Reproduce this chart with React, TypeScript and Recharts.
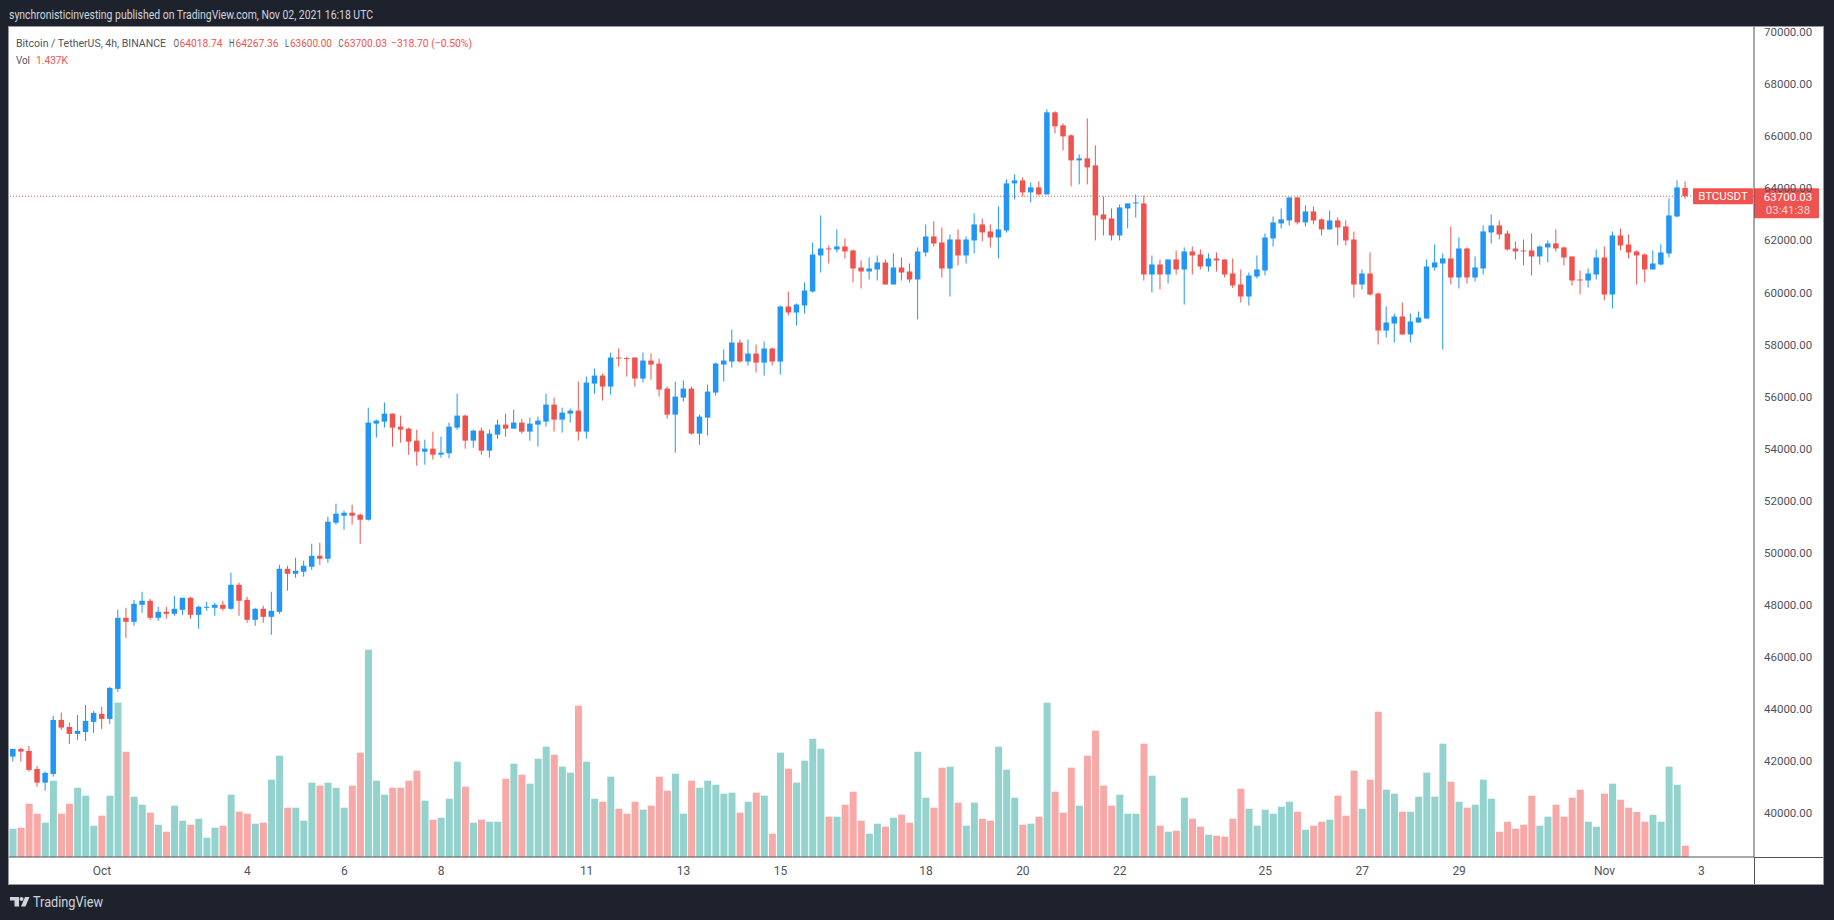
import React from 'react';
import { ComposedChart, Bar, XAxis, YAxis, ReferenceLine } from 'recharts';

// BTCUSDT 4h candles, Sep 29 04:00 UTC -> Nov 2 16:00 UTC
const OPEN = [
  42167, 42462, 42385, 41692, 41167, 41500, 43577, 43308, 43039, 43115,
  43500, 43808, 43615, 44769, 47500, 47346, 48000, 48154, 47500, 47731,
  47654, 47808, 48269, 47615, 47885, 47885, 48000, 47846, 48769, 48192,
  47423, 47846, 47538, 47731, 49384, 49192, 49269, 49461, 49884, 49769,
  51154, 51423, 51538, 51461, 51269, 54961, 55038, 55346, 54846, 54769,
  54307, 53884, 54000, 53769, 53821, 54808, 55270, 54308, 54693, 53924,
  54539, 54924, 54770, 55001, 54654, 54924, 55039, 55693, 55116, 55347,
  55462, 54654, 56500, 56808, 56385, 57501, 57480, 57501, 56693, 57385,
  57270, 56308, 55308, 55962, 56308, 54578, 55193, 56154, 57231, 57347,
  58077, 57347, 57654, 57308, 57847, 57347, 59461, 59231, 59500, 60038,
  61423, 61692, 61654, 61769, 61615, 60961, 60807, 60884, 61154, 60308,
  60961, 60807, 60500, 61538, 62154, 61923, 60923, 62038, 61423, 62000,
  62615, 62346, 62115, 62384, 64192, 64307, 63846, 64038, 63769, 66923,
  66423, 66038, 65077, 65154, 64884, 63000, 62846, 62192, 63231, 63423,
  63423, 60692, 61077, 60692, 61269, 60884, 61577, 61461, 61000, 61307,
  61269, 60731, 60308, 59846, 60615, 60846, 62077, 62654, 62769, 63654,
  62692, 63115, 62808, 62423, 62769, 62538, 62038, 60308, 60731, 59962,
  58539, 58808, 59077, 58385, 58846, 59000, 60962, 61115, 61308, 60577,
  61692, 60577, 60923, 62308, 62577, 62269, 61692, 61615, 61615, 61385,
  61731, 61885, 61731, 61385, 60500, 60462, 60692, 61346, 59923, 62192,
  61846, 61577, 61461, 60885, 61077, 61500, 62923, 64018.74,
];

const HIGH = [
  42462, 42513, 42577, 41808, 41590, 43731, 43859, 43474, 43769, 44154,
  43923, 44077, 44846, 47808, 47885, 48192, 48500, 48231, 47923, 47923,
  48346, 48269, 48308, 47961, 48115, 48077, 48154, 49231, 48846, 48308,
  47885, 47961, 48500, 49538, 49500, 49808, 49692, 50346, 50384, 51384,
  51884, 51615, 51846, 51500, 55577, 55115, 55769, 55346, 55269, 54807,
  54730, 54346, 54653, 54461, 55001, 56116, 55308, 54731, 54808, 54731,
  55116, 55347, 55501, 55154, 55193, 55231, 56116, 55962, 55578, 55539,
  56577, 56770, 57077, 56885, 57693, 57847, 57539, 57501, 57693, 57654,
  57462, 56385, 56577, 56616, 56385, 55308, 56462, 57308, 57808, 58577,
  58193, 58193, 58000, 58116, 57885, 59500, 60038, 59577, 60385, 61923,
  62961, 61807, 62423, 62077, 61654, 61231, 61346, 61423, 61269, 61500,
  61346, 61115, 61731, 62615, 62731, 62500, 62231, 62423, 62154, 63038,
  62846, 62615, 63307, 64346, 64538, 64423, 64231, 64269, 67038, 66961,
  66500, 66077, 65307, 66692, 65654, 63692, 63231, 63384, 63423, 63769,
  63731, 61423, 61269, 61269, 61615, 61731, 61769, 61654, 61500, 61538,
  61269, 61308, 60885, 60769, 61423, 62269, 62923, 63231, 63654, 63654,
  63346, 63308, 62846, 63154, 62884, 62769, 62346, 60885, 61538, 60000,
  59462, 59192, 59615, 59192, 59269, 61269, 61846, 61500, 62538, 62115,
  61731, 61385, 62577, 63000, 62769, 62384, 61961, 62038, 62269, 61808,
  62000, 62423, 61769, 61385, 60846, 60923, 61654, 61769, 62346, 62461,
  62231, 61615, 61500, 61615, 61846, 63615, 64308, 64267.36,
];

const LOW = [
  41974, 41974, 41590, 41013, 40859, 41398, 43192, 42654, 42808, 42769,
  43077, 43231, 43423, 44654, 46731, 47192, 47692, 47423, 47385, 47461,
  47577, 47615, 47461, 47077, 47769, 47577, 47769, 47808, 47577, 47308,
  47192, 47308, 46846, 47654, 48538, 49038, 49077, 49346, 49538, 49615,
  51077, 50884, 51077, 50346, 51231, 54423, 54807, 54077, 54230, 53769,
  53346, 53384, 53577, 53654, 53629, 54731, 54001, 54039, 53770, 53655,
  54385, 54462, 54770, 54578, 54308, 54078, 54847, 54654, 54616, 55001,
  54308, 54385, 56116, 55847, 56077, 57154, 56770, 56385, 56539, 56654,
  56001, 55154, 53847, 55808, 54539, 54154, 54501, 56039, 56577, 57116,
  57308, 57193, 56924, 56808, 57193, 56846, 59115, 58731, 59192, 60000,
  60769, 61115, 61538, 61307, 60385, 60154, 60500, 60461, 60308, 60308,
  60461, 60385, 58961, 61384, 61769, 60577, 59846, 61038, 61115, 61500,
  61961, 61731, 61307, 62307, 63577, 63692, 63461, 63731, 63769, 66115,
  65461, 64077, 64154, 64154, 62000, 62192, 62000, 62000, 62461, 62884,
  60461, 60000, 60115, 60346, 60692, 59538, 60692, 60884, 60807, 60807,
  60577, 60167, 59615, 59500, 60538, 60654, 61769, 62461, 62577, 62615,
  62538, 62615, 62192, 62423, 61808, 61808, 59808, 60115, 59885, 58000,
  58269, 58077, 58385, 58077, 58846, 59000, 60846, 57808, 60308, 60154,
  60346, 60423, 60692, 61885, 62038, 61615, 61269, 61038, 60654, 61077,
  61154, 61577, 61038, 60269, 59923, 60192, 60500, 59692, 59385, 61615,
  61308, 60308, 60385, 60885, 61038, 61346, 62884, 63600,
];

const CLOSE = [
  42462, 42359, 41654, 41167, 41539, 43577, 43282, 43039, 43154, 43539,
  43846, 43615, 44808, 47500, 47346, 48038, 48154, 47500, 47731, 47654,
  47846, 48269, 47615, 47923, 47923, 48000, 47846, 48769, 48154, 47423,
  47846, 47538, 47769, 49384, 49192, 49308, 49500, 49884, 49769, 51192,
  51500, 51538, 51423, 51269, 55000, 55077, 55346, 54807, 54730, 54269,
  53884, 54000, 53769, 53846, 54847, 55270, 54308, 54693, 53924, 54578,
  54924, 54770, 55001, 54654, 54962, 55078, 55693, 55116, 55385, 55462,
  54654, 56539, 56808, 56385, 57501, 57462, 57450, 56693, 57385, 57231,
  56270, 55308, 56001, 56308, 54578, 55231, 56193, 57270, 57385, 58077,
  57347, 57654, 57308, 57847, 57347, 59461, 59231, 59538, 60077, 61461,
  61692, 61654, 61769, 61577, 60923, 60807, 60923, 61154, 60308, 60961,
  60769, 60500, 61577, 62154, 61884, 60923, 62038, 61423, 62038, 62615,
  62308, 62115, 62423, 64192, 64307, 63846, 64038, 63769, 66923, 66384,
  66000, 65077, 65154, 64807, 62961, 62807, 62192, 63269, 63423, 63461,
  60692, 61077, 60692, 61269, 60884, 61577, 61423, 61000, 61307, 61231,
  60692, 60269, 59846, 60654, 60885, 62115, 62692, 62808, 63654, 62692,
  63115, 62769, 62423, 62769, 62500, 62000, 60308, 60731, 59923, 58539,
  58846, 59077, 58385, 58885, 59039, 61000, 61154, 61308, 60577, 61692,
  60577, 60962, 62346, 62577, 62231, 61654, 61577, 61577, 61385, 61769,
  61885, 61692, 61346, 60462, 60462, 60731, 61346, 59923, 62192, 61808,
  61538, 61423, 60885, 61115, 61538, 62961, 64038, 63700.03,
];

// volume in K BTC
const VOLUME = [
  3.59, 3.72, 6.77, 5.5, 4.36, 9.69, 5.5, 6.77, 8.8, 7.79,
  3.98, 5.25, 7.79, 19.6, 13.37, 7.66, 6.64, 5.63, 4.1, 3.21,
  6.52, 4.61, 4.1, 4.86, 2.45, 3.72, 3.98, 7.91, 5.75, 5.5,
  4.23, 4.36, 9.82, 12.87, 6.26, 6.26, 4.61, 9.44, 9.06, 9.44,
  8.8, 6.26, 9.06, 13.25, 26.33, 9.69, 7.91, 8.8, 8.8, 9.69,
  10.96, 7.15, 4.74, 4.99, 7.4, 12.1, 8.93, 4.36, 4.74, 4.48,
  4.48, 9.94, 11.85, 10.45, 9.31, 12.48, 14.01, 12.99, 11.47, 10.71,
  19.22, 12.1, 7.4, 7.02, 10.2, 6.13, 5.5, 7.02, 6.01, 6.52,
  10.2, 8.42, 10.58, 5.5, 9.69, 8.8, 9.69, 9.18, 8.04, 8.17,
  5.63, 7.02, 8.17, 7.79, 2.96, 13.25, 11.21, 9.44, 12.23, 15.02,
  13.75, 5.12, 5.12, 6.64, 8.29, 4.61, 2.96, 4.23, 3.85, 4.99,
  5.37, 4.36, 13.37, 7.53, 6.26, 11.34, 11.47, 6.9, 3.98, 6.9,
  4.86, 4.61, 14.01, 11.09, 7.53, 4.1, 4.23, 5.12, 19.6, 8.29,
  5.63, 11.34, 6.52, 12.87, 16.04, 9.06, 6.52, 7.91, 5.5, 5.5,
  14.39, 10.33, 3.98, 3.21, 3.34, 7.53, 4.86, 3.85, 2.83, 2.71,
  2.58, 4.86, 8.67, 6.13, 3.98, 6.01, 5.5, 6.39, 7.02, 5.75,
  3.47, 3.98, 4.48, 4.74, 7.79, 5.25, 10.96, 6.13, 9.82, 18.45,
  8.55, 8.04, 5.75, 5.75, 7.66, 10.71, 7.66, 14.39, 9.56, 7.02,
  6.26, 6.64, 9.82, 7.4, 3.21, 4.48, 3.59, 4.1, 7.79, 3.98,
  5.12, 6.64, 5.12, 7.53, 8.55, 4.48, 3.85, 8.04, 9.31, 7.28,
  6.26, 5.72, 4.48, 5.37, 4.48, 11.47, 9.18, 1.437,
];

const TICK_DATES = [
  '2021-10-01', '2021-10-04', '2021-10-06', '2021-10-08', '2021-10-11',
  '2021-10-13', '2021-10-15', '2021-10-18', '2021-10-20', '2021-10-22',
  '2021-10-25', '2021-10-27', '2021-10-29', '2021-11-01', '2021-11-03',
];
const PRICE_TICKS = [40000, 42000, 44000, 46000, 48000, 50000, 52000, 54000,
  56000, 58000, 60000, 62000, 64000, 66000, 68000, 70000];
const MONTHS = ['Jan', 'Feb', 'Mar', 'Apr', 'May', 'Jun', 'Jul', 'Aug', 'Sep', 'Oct', 'Nov', 'Dec'];

const START = Date.UTC(2021, 8, 29, 4);
const STEP = 4 * 3600 * 1000;
const EMPTY_SLOTS = 8; // blank space right of the last candle
const LAST_PRICE = 63700.03;

const UP = '#2196f3';
const DOWN = '#ef5350';
const VOL_UP = '#94d3cd';
const VOL_DOWN = '#f7a9a7';
const AXIS = '#50535e';
const TEXT = '#50535e';
const FONT = "Roboto, 'Liberation Sans', sans-serif";

const W = 1814;
const H = 857;
const AXIS_W = 69;
const AXIS_H = 27;

const rows = Array.from({ length: OPEN.length + EMPTY_SLOTS }, (_, i) => {
  const time = START + i * STEP;
  if (i >= OPEN.length) return { time };
  return {
    time,
    open: OPEN[i],
    high: HIGH[i],
    low: LOW[i],
    close: CLOSE[i],
    vol: VOLUME[i],
    up: CLOSE[i] >= OPEN[i],
  };
});

const ticks = TICK_DATES.map((d) => Date.parse(d + 'T00:00:00Z'));

const fmtTime = (ms: number) => {
  const d = new Date(ms);
  return d.getUTCDate() === 1 ? MONTHS[d.getUTCMonth()] : String(d.getUTCDate());
};

const Candle = (props: any) => {
  const { x, y, width, height, payload } = props;
  if (payload == null || payload.high == null) return null;
  const { open, close, high, low } = payload;
  const k = high > low ? height / (high - low) : 0;
  const py = (v: number) => y + (high - v) * k;
  const cx = x + width / 2;
  const color = close >= open ? UP : DOWN;
  const top = py(Math.max(open, close));
  const bot = py(Math.min(open, close));
  return (
    <g>
      <line x1={cx} x2={cx} y1={y} y2={y + height} stroke={color} strokeWidth={1} />
      <rect x={cx - 2.75} y={top} width={5.5} height={Math.max(1, bot - top)} fill={color} />
    </g>
  );
};

const VolBar = (props: any) => {
  const { x, y, width, height, payload } = props;
  if (payload == null || payload.vol == null || !height) return null;
  return <rect x={x + 0.5} y={y} width={width - 1} height={height} fill={payload.up ? VOL_UP : VOL_DOWN} />;
};

const TimeTick = (props: any) => {
  const { x, y, payload } = props;
  return (
    <text x={x} y={y + 18} textAnchor="middle" fontSize={12} fontFamily={FONT} fill={TEXT}>
      {fmtTime(payload.value)}
    </text>
  );
};

const PriceTick = (props: any) => {
  const { x, y, payload } = props;
  return (
    <text x={x + 10} y={y + 4} textAnchor="start" fontSize={11.5} fontFamily={FONT} fill={TEXT}>
      {Number(payload.value).toFixed(2)}
    </text>
  );
};

const PriceTag = (props: any) => {
  const { x, y, width } = props.viewBox;
  const right = x + width;
  return (
    <g fontFamily={FONT}>
      <rect x={right - 61} y={y - 8} width={60} height={16} fill={DOWN} rx={1} />
      <text x={right - 31} y={y + 4} textAnchor="middle" fontSize={11.5} fill="#ffffff">BTCUSDT</text>
      <rect x={right} y={y - 8} width={65} height={30} fill={DOWN} rx={1} />
      <text x={right + 34} y={y + 4.5} textAnchor="middle" fontSize={11.5} fill="#ffffff">
        {LAST_PRICE.toFixed(2)}
      </text>
      <text x={right + 34} y={y + 17.5} textAnchor="middle" fontSize={11.5} fill="rgba(255,255,255,0.75)">
        03:41:38
      </text>
    </g>
  );
};

const ZERO = { top: 0, right: 0, bottom: 0, left: 0 };

const VolumeChart = () => (
  <ComposedChart width={W} height={H} data={rows} margin={ZERO} barCategoryGap={0}>
    <XAxis dataKey="time" type="category" height={AXIS_H} tick={false} tickLine={false} axisLine={false} />
    <YAxis yAxisId="v" orientation="right" width={AXIS_W} domain={[0, 105.4]} allowDataOverflow
      tick={false} tickLine={false} axisLine={false} />
    <Bar yAxisId="v" dataKey="vol" shape={VolBar} isAnimationActive={false} />
  </ComposedChart>
);

const PriceChart = () => (
  <ComposedChart width={W} height={H} data={rows} margin={ZERO}>
    <XAxis dataKey="time" type="category" height={AXIS_H} ticks={ticks} interval={0}
      tick={TimeTick} tickSize={0} tickMargin={0} tickLine={false} axisLine={{ stroke: AXIS }} />
    <YAxis yAxisId="p" orientation="right" width={AXIS_W} domain={[38309, 70202]} allowDataOverflow
      ticks={PRICE_TICKS} interval={0} tick={PriceTick} tickSize={0} tickMargin={0} tickLine={false}
      axisLine={{ stroke: AXIS }} />
    <ReferenceLine yAxisId="p" y={LAST_PRICE} stroke={DOWN} strokeDasharray="1 2" label={PriceTag} />
    <Bar yAxisId="p" dataKey={(d: any) => (d.high == null ? null : [d.low, d.high])}
      shape={Candle} isAnimationActive={false} />
  </ComposedChart>
);

const fit = { lengthAdjust: 'spacingAndGlyphs' } as any;

export default function App() {
  return (
    <div style={{ position: 'fixed', left: 0, top: 0, width: 1834, height: 920, background: '#1e222d', overflow: 'hidden' }}>
      <div style={{ position: 'absolute', left: 9, top: 27, width: W, height: H, background: '#ffffff', boxShadow: '0 0 0 1px #9598a1' }}>
        <div style={{ position: 'absolute', left: 0, top: 0 }}><VolumeChart /></div>
        <div style={{ position: 'absolute', left: 0, top: 0 }}><PriceChart /></div>
        <div style={{ position: 'absolute', left: W - AXIS_W, top: H - AXIS_H, width: 1, height: AXIS_H, background: AXIS }} />
        <div style={{ position: 'absolute', left: W - AXIS_W, top: H - AXIS_H, width: AXIS_W, height: 1, background: AXIS }} />
      </div>
      <svg width={1834} height={920} style={{ position: 'absolute', left: 0, top: 0, pointerEvents: 'none' }} fontFamily={FONT}>
        <text x={9} y={19} fontSize={12} fill="#d1d4dc" textLength={364} {...fit}>
          synchronisticinvesting published on TradingView.com, Nov 02, 2021 16:18 UTC
        </text>
        <g fontSize={11.5}>
          <text x={16} y={47} fill={TEXT} textLength={150} {...fit}>Bitcoin / TetherUS, 4h, BINANCE</text>
          <text x={173.5} y={47} fill={TEXT} textLength={5.5} {...fit}>O</text>
          <text x={179.5} y={47} fill={DOWN} textLength={43} {...fit}>64018.74</text>
          <text x={229} y={47} fill={TEXT} textLength={5.5} {...fit}>H</text>
          <text x={235.5} y={47} fill={DOWN} textLength={43} {...fit}>64267.36</text>
          <text x={285} y={47} fill={TEXT} textLength={4} {...fit}>L</text>
          <text x={290} y={47} fill={DOWN} textLength={42} {...fit}>63600.00</text>
          <text x={338.5} y={47} fill={TEXT} textLength={5} {...fit}>C</text>
          <text x={344} y={47} fill={DOWN} textLength={43} {...fit}>63700.03</text>
          <text x={391} y={47} fill={DOWN} textLength={81} {...fit}>−318.70 (−0.50%)</text>
          <text x={16} y={64} fill={TEXT} textLength={14} {...fit}>Vol</text>
          <text x={36} y={64} fill={DOWN} textLength={32} {...fit}>1.437K</text>
        </g>
        <g fill="#d1d4dc">
          <rect x={10} y={897} width={9} height={3.5} />
          <rect x={14.5} y={897} width={4.5} height={9.5} />
          <circle cx={21.5} cy={899} r={2} />
          <path d="M25 897 H29.5 L25.5 906.5 H21 Z" />
          <text x={33} y={907} fontSize={14} textLength={70} {...fit}>TradingView</text>
        </g>
      </svg>
    </div>
  );
}
